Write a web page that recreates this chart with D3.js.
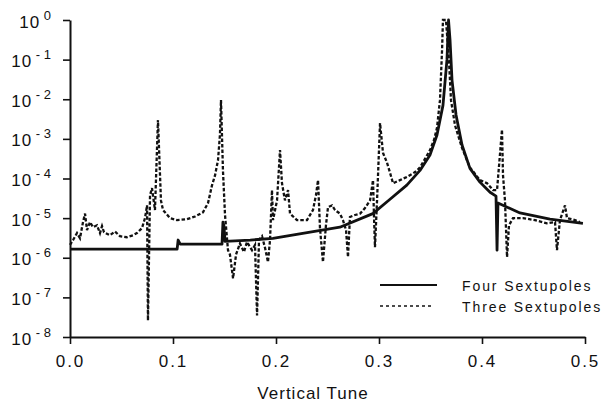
<!DOCTYPE html>
<html>
<head>
<meta charset="utf-8">
<script src="https://cdn.jsdelivr.net/npm/d3@7"></script>
<style>
  body { margin: 0; background: #fff; }
  svg text { font-family: "Liberation Sans", Arial, sans-serif; fill: #111; }
  .axis path, .axis line { stroke: #111; }
</style>
</head>
<body>
<div id="chart"></div>
<script>
    // Four Sextupoles (solid)
    var fourTune = [0, 0.078, 0.104, 0.105, 0.107, 0.1476, 0.1485, 0.1495, 0.1505, 0.175, 0.197, 0.223, 0.262, 0.294, 0.3107,
        0.327, 0.3398, 0.3495, 0.3563, 0.3621, 0.366, 0.3675, 0.369, 0.3709, 0.3748, 0.3806, 0.3883, 0.398, 0.4078, 0.4136,
        0.4146, 0.4155, 0.4369, 0.466, 0.498]
    var fourVal = [1.65e-6, 1.65e-6, 1.65e-6, 2.8e-6, 2.2e-6, 2.2e-6, 7.9e-6, 6.3e-6, 2.6e-6, 2.8e-6, 3.1e-6, 4e-6, 5.9e-6, 1.3e-5, 3e-5,
        6.8e-5, 1.6e-4, 3.9e-4, 1.25e-3, 7e-3, 0.1, 1.0, 0.3, 0.03, 4e-3, 7e-4, 1.8e-4, 8.1e-5, 4.5e-5, 3.6e-5,
        1.55e-6, 2.4e-5, 1.35e-5, 9.4e-6, 7.4e-6]

    // Three Sextupoles (dashed)
    var threeTune = [0, 0.003, 0.0068, 0.0097, 0.0126, 0.0146, 0.0165, 0.0194, 0.0223, 0.0262, 0.0291, 0.0311, 0.033, 0.0388, 0.0437,
        0.0485, 0.0553, 0.0612, 0.065, 0.0699, 0.0728, 0.0748, 0.0757, 0.0777, 0.0796, 0.0825, 0.0854, 0.0874, 0.0883, 0.0903,
        0.0971, 0.1039, 0.1136, 0.1214, 0.1291, 0.134, 0.1379, 0.1408, 0.1437, 0.1456, 0.1466, 0.1485, 0.1505, 0.1534, 0.1553,
        0.1583, 0.1612, 0.165, 0.1689, 0.1718, 0.1767, 0.1796, 0.1816, 0.1835, 0.1864, 0.1893, 0.1922, 0.1942, 0.1961, 0.1971,
        0.201, 0.2039, 0.2058, 0.2087, 0.2117, 0.2136, 0.2204, 0.2301, 0.2359, 0.2388, 0.2408, 0.2427, 0.2456, 0.2485, 0.2505,
        0.2544, 0.2573, 0.2621, 0.265, 0.268, 0.2699, 0.2718, 0.2767, 0.2816, 0.2864, 0.2913, 0.2942, 0.2951, 0.2961, 0.2981,
        0.301, 0.3039, 0.3078, 0.3107, 0.3136, 0.3204, 0.3272, 0.335, 0.3398, 0.3495, 0.3534, 0.3563, 0.3592, 0.3612, 0.3621,
        0.365, 0.3679, 0.3699, 0.3738, 0.3806, 0.3883, 0.398, 0.4049, 0.4107, 0.4146, 0.4194, 0.4204, 0.4223, 0.4243, 0.4262,
        0.4301, 0.4398, 0.4515, 0.4631, 0.4709, 0.4728, 0.4757, 0.4806, 0.4825, 0.4903, 0.4951]
    var threeVal = [2.1e-6, 2.8e-6, 4.2e-6, 3.1e-6, 7.9e-6, 1.3e-5, 5e-6, 7.9e-6, 5.9e-6, 6.6e-6, 4.2e-6, 6.3e-6, 4.4e-6, 3.7e-6, 4.6e-6,
        3.5e-6, 3.3e-6, 3.7e-6, 4.2e-6, 5.6e-6, 1e-5, 2.1e-5, 2.6e-8, 3.8e-5, 5.7e-5, 1.6e-5, 3e-3, 1.2e-4, 2.8e-5, 1.6e-5,
        1e-5, 8.9e-6, 9.4e-6, 1.1e-5, 1.4e-5, 2.4e-5, 6.8e-5, 1.2e-4, 2.9e-4, 1.3e-3, 9.5e-3, 1.6e-4, 1.2e-5, 1.55e-6, 1.2e-6,
        3e-7, 1.2e-6, 2.3e-6, 1.4e-6, 2.5e-6, 1.55e-6, 2.1e-6, 3.5e-8, 2.8e-6, 3.5e-6, 1.8e-6, 7.8e-7, 2.8e-6, 5.1e-5, 8.9e-6,
        2.8e-5, 5.2e-4, 7.6e-5, 2.8e-5, 5.1e-5, 1.3e-5, 8.9e-6, 8.9e-6, 1.6e-5, 3.8e-5, 9.1e-5, 5.6e-6, 7.8e-7, 6.6e-6, 1.9e-5,
        2.1e-5, 1.6e-5, 1.3e-5, 8.9e-6, 5e-6, 1.04e-6, 1.07e-5, 1.2e-5, 1.3e-5, 1.8e-5, 2.8e-5, 9.1e-5, 1.2e-5, 1.85e-6, 2.8e-5,
        2.5e-3, 4.4e-4, 2.5e-4, 1.4e-4, 7.6e-5, 9.1e-5, 1.1e-4, 1.45e-4, 1.9e-4, 5.2e-4, 9.4e-4, 1.9e-3, 9.5e-3, 0.17, 1.0,
        1.0, 0.1, 9.5e-3, 2.2e-3, 5.9e-4, 1.9e-4, 9.1e-5, 7.6e-5, 5.1e-5, 5.1e-5, 1.7e-3, 1.2e-4, 2.8e-5, 1.04e-6, 6.6e-6,
        1e-5, 1e-5, 8.9e-6, 7.4e-6, 7.9e-6, 1.55e-6, 8.9e-6, 2.1e-5, 1e-5, 8.9e-6, 7.9e-6]

    var xTicks = [0, 0.1, 0.2, 0.3, 0.4, 0.5]
    var yExp = [0, -1, -2, -3, -4, -5, -6, -7, -8]
    var seriesNames = ["Four Sextupoles", "Three Sextupoles"]

    var ancho = 612,
        alto = 412,
        margenIzq = 70,
        margenDer = 585,
        margenSup = 20,
        margenInf = 337;

    var x = d3.scaleLinear()
        .domain([0, 0.5])
        .range([margenIzq, margenDer]);

    var y = d3.scaleLog()
        .domain([1e-8, 1])
        .range([margenInf, margenSup]);

    var svg = d3.select("#chart").append("svg")
        .attr("width", ancho)
        .attr("height", alto);

    var linea = d3.line()
        .x(function (d) { return x(d[0]); })
        .y(function (d) { return y(d[1]); });

    var datosFour = fourTune.map(function (t, i) { return [t, fourVal[i]]; })
    var datosThree = threeTune.map(function (t, i) { return [t, threeVal[i]]; })

    svg.append("path")
        .datum(datosThree)
        .attr("fill", "none")
        .attr("stroke", "#111")
        .attr("stroke-width", 2.3)
        .attr("stroke-dasharray", "3.5,2")
        .attr("d", linea);

    svg.append("path")
        .datum(datosFour)
        .attr("fill", "none")
        .attr("stroke", "#111")
        .attr("stroke-width", 2.8)
        .attr("stroke-linejoin", "round")
        .attr("d", linea);

    // x axis
    var gx = svg.append("g")
        .attr("class", "axis")
        .attr("transform", "translate(0," + margenInf + ")")
        .call(d3.axisBottom(x)
            .tickValues(xTicks)
            .tickSize(7)
            .tickSizeOuter(0)
            .tickPadding(11)
            .tickFormat(d3.format(".1f")));
    gx.select(".domain").attr("stroke-width", 2);
    gx.selectAll(".tick line").attr("stroke-width", 1.6);
    gx.selectAll("text")
        .attr("font-size", 17)
        .attr("letter-spacing", 2)
        .attr("fill", "#111");

    // y axis
    var gy = svg.append("g")
        .attr("class", "axis")
        .attr("transform", "translate(" + margenIzq + ",0)")
        .call(d3.axisLeft(y)
            .tickValues(yExp.map(function (e) { return Math.pow(10, e); }))
            .tickSize(7)
            .tickSizeOuter(0)
            .tickPadding(12));
    gy.select(".domain").attr("stroke-width", 2);
    gy.selectAll(".tick line").attr("stroke-width", 1.6);
    gy.selectAll(".tick text").each(function (d) {
        var e = Math.round(Math.log10(d));
        var txt = d3.select(this).text("").attr("dy", 7).attr("fill", "#111");
        txt.append("tspan").attr("font-size", 17).attr("letter-spacing", 1).text("10");
        txt.append("tspan").attr("font-size", 13).attr("dy", -8)
            .text(e == 0 ? " 0" : " - " + (-e));
    });

    // axis title
    svg.append("text")
        .attr("x", 313)
        .attr("y", 399)
        .attr("text-anchor", "middle")
        .attr("font-size", 17)
        .attr("letter-spacing", 1)
        .text("Vertical Tune");

    // legend
    var leyenda = svg.append("g");
    seriesNames.forEach(function (nombre, i) {
        var ly = 285 + i * 21;
        leyenda.append("line")
            .attr("x1", 380)
            .attr("x2", i == 0 ? 437 : 432)
            .attr("y1", ly)
            .attr("y2", ly)
            .attr("stroke", "#111")
            .attr("stroke-width", i == 0 ? 2.2 : 1.3)
            .attr("stroke-dasharray", i == 0 ? null : "3,3");
        leyenda.append("text")
            .attr("x", 462)
            .attr("y", ly + 6)
            .attr("font-size", 14)
            .attr("letter-spacing", 1.9)
            .text(nombre);
    });
</script>
</body>
</html>
